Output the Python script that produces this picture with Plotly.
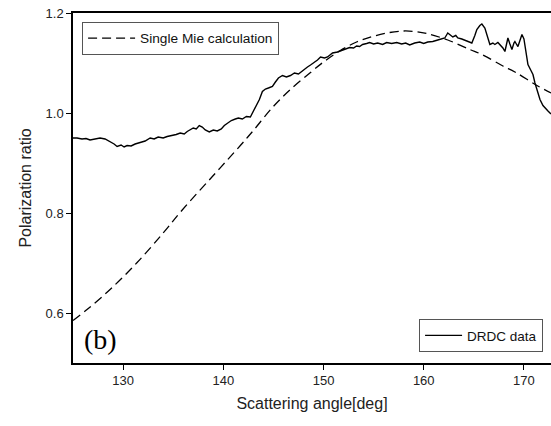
import plotly.graph_objects as go

# DRDC measured data (scattering angle in deg, polarization ratio)
drdc_angle = [125.0, 125.4, 125.9, 126.3, 126.7, 127.2, 127.7, 128.2, 128.7, 129.1,
              129.4, 129.8, 130.1, 130.4, 130.8, 131.2, 131.7, 132.2, 132.7, 133.1,
              133.5, 134.0, 134.4, 134.9, 135.3, 135.7, 136.1, 136.4, 136.7, 137.0,
              137.3, 137.6, 137.9, 138.2, 138.6, 139.0, 139.4, 139.8, 140.1, 140.5,
              140.8, 141.2, 141.5, 141.9, 142.3, 142.7, 143.0, 143.3, 143.6, 143.9,
              144.2, 144.5, 144.9, 145.2, 145.5, 145.9, 146.3, 146.7, 147.1, 147.5,
              147.9, 148.4, 148.7, 149.0, 149.4, 149.7, 150.1, 150.4, 150.9, 151.4,
              151.9, 152.3, 152.6, 153.0, 153.3, 153.6, 153.9, 154.3, 154.6, 155.0,
              155.4, 155.9, 156.3, 156.8, 157.3, 157.8, 158.2, 158.6, 159.1, 159.6,
              160.0, 160.4, 160.9, 161.4, 161.8, 162.1, 162.4, 162.7, 162.9, 163.2,
              163.4, 163.8, 164.1, 164.5, 164.8, 165.1, 165.3, 165.6, 165.8, 166.1,
              166.3, 166.6, 166.9, 167.1, 167.4, 167.6, 167.9, 168.1, 168.3, 168.4,
              168.6, 168.8, 169.0, 169.1, 169.3, 169.4, 169.6, 169.8, 170.0, 170.1,
              170.3, 170.4, 170.7, 170.9, 171.1, 171.3, 171.6, 171.9, 172.1, 172.4,
              172.6, 172.7]
drdc_ratio = [0.950, 0.950, 0.948, 0.949, 0.946, 0.948, 0.950, 0.948, 0.943, 0.938,
              0.933, 0.936, 0.932, 0.935, 0.934, 0.938, 0.941, 0.944, 0.950, 0.948,
              0.952, 0.950, 0.953, 0.955, 0.957, 0.960, 0.958, 0.963, 0.967, 0.970,
              0.968, 0.975, 0.972, 0.966, 0.962, 0.966, 0.964, 0.968, 0.975, 0.980,
              0.985, 0.988, 0.990, 0.988, 0.993, 0.992, 1.003, 1.015, 1.027, 1.043,
              1.048, 1.050, 1.053, 1.062, 1.070, 1.075, 1.072, 1.075, 1.080, 1.078,
              1.085, 1.092, 1.096, 1.100, 1.106, 1.112, 1.110, 1.112, 1.120, 1.122,
              1.126, 1.128, 1.131, 1.130, 1.134, 1.133, 1.137, 1.139, 1.141, 1.138,
              1.140, 1.137, 1.141, 1.139, 1.141, 1.138, 1.140, 1.136, 1.140, 1.142,
              1.139, 1.142, 1.143, 1.146, 1.148, 1.150, 1.160, 1.154, 1.152, 1.155,
              1.150, 1.148, 1.146, 1.142, 1.140, 1.155, 1.167, 1.175, 1.178, 1.170,
              1.158, 1.137, 1.140, 1.137, 1.141, 1.137, 1.130, 1.123, 1.140, 1.150,
              1.138, 1.127, 1.140, 1.143, 1.136, 1.133, 1.145, 1.157, 1.148, 1.133,
              1.112, 1.097, 1.085, 1.077, 1.060, 1.047, 1.027, 1.015, 1.010, 1.004,
              1.000, 0.998]

# Single Mie calculation
mie_angle = [125.0, 126.4, 128.7, 131.4, 134.0, 135.9, 139.0, 141.7, 143.0, 144.9,
             146.7, 148.7, 150.0, 151.6, 153.3, 154.9, 156.6, 158.0, 159.1, 160.3,
             162.4, 164.6, 165.8, 167.9, 169.1, 171.3, 172.7]
mie_ratio = [0.585, 0.607, 0.647, 0.701, 0.760, 0.806, 0.875, 0.935, 0.965, 1.011,
             1.047, 1.081, 1.102, 1.124, 1.142, 1.153, 1.161, 1.164, 1.163, 1.159,
             1.146, 1.127, 1.117, 1.094, 1.082, 1.055, 1.040]

x_ticks = [130, 140, 150, 160, 170]
y_ticks = [0.6, 0.8, 1.0, 1.2]

fig = go.Figure()
fig.add_trace(go.Scatter(x=mie_angle, y=mie_ratio, mode="lines",
                         name="Single Mie calculation", legend="legend",
                         line=dict(color="black", width=1.3, dash="9px,5px", shape="spline")))
fig.add_trace(go.Scatter(x=drdc_angle, y=drdc_ratio, mode="lines",
                         name="DRDC data", legend="legend2",
                         line=dict(color="black", width=1.4)))

sans = "Liberation Sans, Arial, sans-serif"
fig.update_layout(
    width=551, height=426,
    margin=dict(l=73, r=0, t=13, b=63, autoexpand=False),
    paper_bgcolor="white", plot_bgcolor="white",
    font=dict(family=sans, size=13, color="#222"),
    showlegend=True,
    xaxis=dict(range=[125, 172.7], tickvals=x_ticks, ticks="outside", ticklen=5,
               tickwidth=1.2, tickcolor="black", showline=True, linecolor="black",
               linewidth=1.5, mirror=True, showgrid=False, zeroline=False,
               tickfont=dict(size=13), ticklabeloverflow="allow", automargin=False,
               title=dict(text="Scattering angle[deg]", font=dict(size=16), standoff=10)),
    yaxis=dict(range=[0.5, 1.2], tickvals=y_ticks, tickformat=".1f", ticks="outside",
               ticklen=5, tickwidth=1.2, tickcolor="black", showline=True,
               linecolor="black", linewidth=1.5, showgrid=False, zeroline=False,
               tickfont=dict(size=13), ticklabeloverflow="allow", automargin=False,
               title=dict(text="Polarization ratio", font=dict(size=16), standoff=10)),
    legend=dict(x=0.019, y=0.975, xanchor="left", yanchor="top",
                bordercolor="#555", borderwidth=1, bgcolor="white",
                font=dict(size=13.7, color="#111"), itemwidth=47),
    legend2=dict(x=0.724, y=0.031, xanchor="left", yanchor="bottom",
                 bordercolor="#555", borderwidth=1, bgcolor="white",
                 font=dict(size=13.5, color="#111"), itemwidth=37),
    annotations=[dict(text="(b)", xref="paper", yref="paper", x=0.018, y=0.018,
                      xanchor="left", yanchor="bottom", showarrow=False,
                      font=dict(family="Liberation Serif, Times New Roman, serif",
                                size=28, color="black"))],
)

fig.write_html("out.html",
               config={"displayModeBar": False},
               post_script="document.body.style.margin='0';document.body.style.overflow='hidden';")
